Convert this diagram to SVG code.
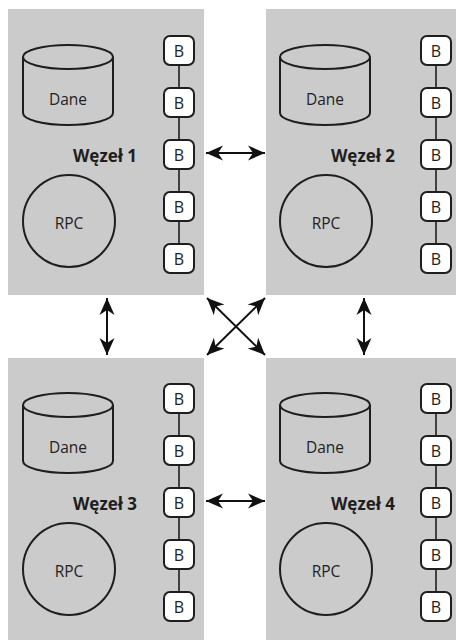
<svg xmlns="http://www.w3.org/2000/svg" width="456" height="640" viewBox="0 0 456 640">
  <style>
    .panel { fill: #cbcbcb; }
    .shape { fill: none; stroke: #1e1e1e; stroke-width: 2; }
    .cyl { fill: #cbcbcb; stroke: #1e1e1e; stroke-width: 2; }
    .bbox { fill: #ffffff; stroke: #1e1e1e; stroke-width: 2; }
    .chain { stroke: #1e1e1e; stroke-width: 1.6; }
    .lbl { font-family: "Open Sans", "Noto Sans", sans-serif; font-size: 15.5px; fill: #222; text-anchor: middle; dominant-baseline: central; }
    .blk { font-family: "Open Sans", "Noto Sans", sans-serif; font-size: 16px; fill: #222; text-anchor: middle; dominant-baseline: central; }
    .title { font-family: "Open Sans", "Noto Sans", sans-serif; font-size: 17px; font-weight: bold; fill: #1e1e1e; text-anchor: middle; dominant-baseline: central; }
    .link { stroke: #111; stroke-width: 2; fill: none; marker-start: url(#head); marker-end: url(#head); }
  </style>
  <defs>
    <marker id="head" markerUnits="userSpaceOnUse" viewBox="-18 -9 19 18" markerWidth="19" markerHeight="18" refX="0" refY="0" orient="auto-start-reverse">
      <path d="M0,0 L-17,-7.5 L-12,0 L-17,7.5 Z" fill="#111"/>
    </marker>
    <!-- storage cylinder, RPC circle and chain of B blocks shared by every node -->
    <g id="inner">
      <path class="cyl" d="M23,57 L23,113 A45,12 0 0 0 113,113 L113,57"/>
      <ellipse class="cyl" cx="68" cy="57" rx="45" ry="12"/>
      <text class="lbl" x="68" y="99">Dane</text>
      <circle class="shape" cx="69" cy="221" r="46"/>
      <text class="lbl" x="69" y="223">RPC</text>
      <line class="chain" x1="179" y1="50" x2="179" y2="258"/>
      <rect class="bbox" x="164" y="36" width="30" height="29" rx="6"/>
      <rect class="bbox" x="164" y="88" width="30" height="29" rx="6"/>
      <rect class="bbox" x="164" y="140" width="30" height="29" rx="6"/>
      <rect class="bbox" x="164" y="192" width="30" height="29" rx="6"/>
      <rect class="bbox" x="164" y="244" width="30" height="29" rx="6"/>
      <text class="blk" x="179" y="51">B</text>
      <text class="blk" x="179" y="103">B</text>
      <text class="blk" x="179" y="155">B</text>
      <text class="blk" x="179" y="207">B</text>
      <text class="blk" x="179" y="259">B</text>
    </g>
  </defs>

  <g id="node1">
    <rect class="panel" x="8" y="9" width="196" height="286"/>
    <use href="#inner"/>
    <text class="title" x="105" y="155">Węzeł 1</text>
  </g>

  <g id="node2">
    <rect class="panel" x="266" y="9" width="190" height="286"/>
    <use href="#inner" transform="translate(257,0)"/>
    <text class="title" x="363" y="155">Węzeł 2</text>
  </g>

  <g id="node3">
    <rect class="panel" x="8" y="358" width="196" height="282"/>
    <use href="#inner" transform="translate(0,348)"/>
    <text class="title" x="105" y="503">Węzeł 3</text>
  </g>

  <g id="node4">
    <rect class="panel" x="266" y="358" width="190" height="282"/>
    <use href="#inner" transform="translate(257,348)"/>
    <text class="title" x="363" y="503">Węzeł 4</text>
  </g>

  <g id="connectors">
    <line class="link" x1="206" y1="153" x2="265" y2="153"/>
    <line class="link" x1="206" y1="501" x2="265" y2="501"/>
    <line class="link" x1="107" y1="298" x2="107" y2="355"/>
    <line class="link" x1="364" y1="298" x2="364" y2="355"/>
    <line class="link" x1="207" y1="298" x2="265" y2="355"/>
    <line class="link" x1="265" y1="298" x2="207" y2="355"/>
  </g>
</svg>
